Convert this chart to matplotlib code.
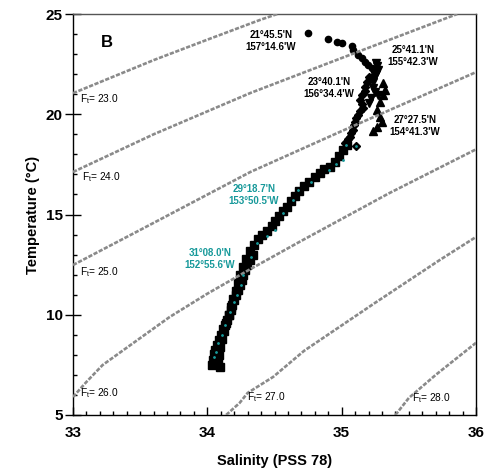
import matplotlib
matplotlib.use("Agg")
import matplotlib.pyplot as plt
from matplotlib.ticker import MultipleLocator

plt.rcParams['font.family'] = ['Liberation Sans', 'DejaVu Sans']
plt.rcParams['mathtext.fontset'] = 'custom'
plt.rcParams['mathtext.rm'] = 'Liberation Sans'

teal = '#17999a'
gris = '#8a8a8a'

# isopicnas (salinidad, temperatura)
iso_niveles = ["23.0", "24.0", "25.0", "26.0", "27.0", "28.0"]
iso_s = [
    [33.0, 33.6, 34.0, 34.39, 34.52],
    [33.0, 33.6, 34.32, 34.99, 35.86],
    [33.0, 33.5, 34.32, 35.0, 36.0],
    [33.0, 33.1, 33.22, 33.48, 33.72, 34.0, 34.3, 34.69, 35.35, 36.0],
    [34.14, 34.24, 34.3, 34.49, 34.72, 35.25, 35.73, 36.0],
    [35.40, 35.5, 35.7, 36.0],
]
iso_t = [
    [21.05, 22.7, 23.72, 24.7, 25.0],
    [17.12, 19.0, 21.06, 22.78, 25.0],
    [12.48, 14.23, 17.12, 19.16, 22.1],
    [5.9, 6.65, 7.49, 8.74, 9.89, 11.05, 12.2, 13.65, 16.05, 18.25],
    [5.0, 5.6, 6.1, 6.9, 8.2, 10.6, 12.73, 13.88],
    [5.0, 5.85, 7.0, 8.6],
]
iso_lab_s = [33.05, 33.065, 33.05, 33.05, 34.296, 35.524]
iso_lab_t = [20.76, 16.87, 12.13, 6.1, 5.9, 5.85]

# estaciones
st1_s = [34.75, 34.90, 34.966, 35.003, 35.077, 35.085, 35.12, 35.15, 35.17, 35.197, 35.226, 35.24]
st1_t = [24.05, 23.75, 23.60, 23.55, 23.40, 23.20, 22.96, 22.81, 22.61, 22.46, 22.31, 22.15]

st2_s = [35.11, 35.025, 35.05, 35.063, 35.07, 35.085, 35.095, 35.10, 35.11, 35.122, 35.14, 35.16,
         35.15, 35.137, 35.152, 35.17, 35.174, 35.19, 35.2]
st2_t = [18.4, 18.57, 18.75, 18.87, 19.05, 19.21, 19.45, 19.61, 19.8, 19.96, 20.15, 20.31,
         20.5, 20.71, 20.96, 21.15, 21.36, 21.6, 21.85]

st3_s = [35.256, 35.265, 35.271, 35.255, 35.24, 35.23, 35.234, 35.25, 35.27, 35.22, 35.2]
st3_t = [22.56, 22.4, 22.21, 22.0, 21.81, 21.6, 21.31, 21.1, 20.96, 20.8, 20.55]

st4_s = [35.308, 35.323, 35.308, 35.286, 35.264, 35.286, 35.30, 35.264, 35.234]
st4_t = [21.56, 21.21, 20.96, 20.61, 20.21, 19.86, 19.61, 19.36, 19.16]

st5_s = [34.095, 34.08, 34.085, 34.095, 34.11, 34.125, 34.14, 34.158, 34.175, 34.19, 34.21,
         34.228, 34.245, 34.265, 34.29, 34.32, 34.35, 34.38, 34.41, 34.445, 34.48, 34.5,
         34.53, 34.56, 34.59, 34.62, 34.65, 34.68, 34.72, 34.76, 34.8, 34.84, 34.87, 34.91,
         34.95, 34.98, 35.01, 35.04]
st5_t = [7.39, 7.7, 8.0, 8.4, 8.8, 9.2, 9.6, 10.0, 10.4, 10.8, 11.2,
         11.6, 12.0, 12.4, 12.8, 13.2, 13.5, 13.8, 14.0, 14.2, 14.45, 14.7,
         14.95, 15.15, 15.35, 15.65, 15.9, 16.15, 16.4, 16.6, 16.85, 17.05, 17.25, 17.35,
         17.6, 17.9, 18.2, 18.45]

st6_s = [34.035, 34.04, 34.05, 34.058, 34.072, 34.086, 34.10, 34.115, 34.13, 34.145, 34.16,
         34.175, 34.186, 34.198, 34.212, 34.228, 34.243, 34.255, 34.268, 34.282, 34.297,
         34.318, 34.34]
st6_t = [7.49, 7.75, 8.02, 8.24, 8.5, 8.76, 9.0, 9.27, 9.5, 9.74, 10.0,
         10.26, 10.5, 10.76, 11.0, 11.24, 11.48, 11.75, 12.0, 12.25, 12.48,
         12.75, 12.98]

teal_s = [35.11, 35.033, 35.01, 34.958, 34.906, 34.772, 34.675, 34.638, 34.564, 34.504,
          34.445, 34.37, 34.325, 34.266, 34.248, 34.221, 34.2, 34.169, 34.132, 34.109,
          34.08, 34.065, 34.05]
teal_t = [18.4, 18.47, 17.72, 17.52, 17.22, 16.62, 16.22, 15.72, 15.07, 14.23,
          13.95, 13.58, 12.88, 11.98, 11.48, 10.99, 10.64, 10.14, 9.49, 8.99,
          8.59, 8.14, 7.89]

etiquetas = ["21°45.5'N\n157°14.6'W", "25°41.1'N\n155°42.3'W", "23°40.1'N\n156°34.4'W",
             "27°27.5'N\n154°41.3'W", "29°18.7'N\n153°50.5'W", "31°08.0'N\n152°55.6'W"]
etiq_s = [34.474, 35.532, 34.906, 35.547, 34.348, 34.02]
etiq_t = [23.65, 22.9, 21.31, 19.41, 15.97, 12.78]
etiq_color = ['black', 'black', 'black', 'black', teal, teal]

fig = plt.figure(figsize=(4.92, 4.72), dpi=100)
ax = fig.add_axes([0.1484, 0.1208, 0.8191, 0.8495])

for xs, ys in zip(iso_s, iso_t):
    ax.plot(xs, ys, color=gris, lw=1.9, ls=(0, (1.6, 0.6)), zorder=3)
for lab, xs, ys in zip(iso_niveles, iso_lab_s, iso_lab_t):
    ax.text(xs, ys, r"F$_\mathregular{t}$= " + lab, fontsize=7.3, ha='left', va='center', zorder=5)

ax.plot(st6_s, st6_t, 's', color='black', ms=5.5, zorder=2)
ax.plot(st5_s, st5_t, 's', color='black', ms=5.5, zorder=2)
ax.plot(st2_s, st2_t, 'D', color='black', ms=4.5, zorder=2)
ax.plot(st3_s, st3_t, 'v', color='black', ms=5.5, zorder=2)
ax.plot(st4_s, st4_t, '^', color='black', ms=5.5, zorder=2)
ax.plot(st1_s, st1_t, 'o', color='black', ms=4.5, zorder=2)
ax.plot(teal_s, teal_t, '.', color=teal, ms=2, zorder=4)

for txt, xs, ys, c in zip(etiquetas, etiq_s, etiq_t, etiq_color):
    ax.text(xs, ys, txt, fontsize=7, fontweight='bold', color=c, ha='center', va='center',
            linespacing=1.25, zorder=5)
ax.text(33.253, 23.6, "B", fontsize=12, fontweight='bold', ha='center', va='center')

ax.set_xlim(33, 36)
ax.set_ylim(5, 25)
ax.xaxis.set_major_locator(MultipleLocator(1))
ax.xaxis.set_minor_locator(MultipleLocator(0.1))
ax.yaxis.set_major_locator(MultipleLocator(5))
ax.yaxis.set_minor_locator(MultipleLocator(1))
ax.tick_params(axis='x', which='major', direction='in', length=6, width=1, labelsize=11, pad=8)
ax.tick_params(axis='x', which='minor', direction='in', length=3, width=1)
ax.tick_params(axis='y', which='major', direction='inout', length=11, width=1, labelsize=11, pad=2)
ax.tick_params(axis='y', which='minor', direction='in', length=3, width=1)
for lbl in ax.get_xticklabels() + ax.get_yticklabels():
    lbl.set_fontweight('bold')
for s in ax.spines.values():
    s.set_linewidth(1.0)
ax.spines['top'].set_color('#555555')

ax.set_xlabel('Salinity (PSS 78)', fontsize=10.5, fontweight='bold', labelpad=10)
ax.set_ylabel('Temperature (°C)', fontsize=10.5, fontweight='bold', labelpad=4)

fig.savefig("out.png", dpi=100)
